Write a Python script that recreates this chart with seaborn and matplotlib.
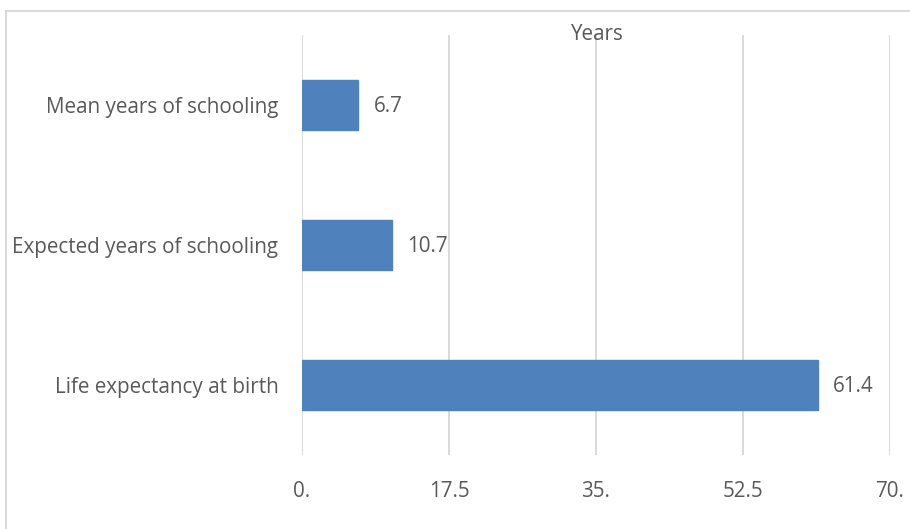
import matplotlib
matplotlib.use("Agg")
import matplotlib.pyplot as plt
from matplotlib.lines import Line2D
import seaborn as sns
import pandas as pd

# data
categories = ['Mean years of schooling', 'Expected years of schooling', 'Life expectancy at birth']
values = [6.7, 10.7, 61.4]
tick_vals = [0, 17.5, 35, 52.5, 70]
tick_labels = ['0.', '17.5', '35.', '52.5', '70.']

df = pd.DataFrame({'cat': categories, 'val': values})

sns.set_style("white")
plt.rcParams['font.family'] = ['Open Sans', 'DejaVu Sans']
txt = '#595959'
grid_c = '#D9D9D9'
fs = 14.9

fig = plt.figure(figsize=(9.1, 5.29), dpi=100)
ax = fig.add_axes([302/910, 1 - 455/529, 588/910, 420/529])

sns.barplot(data=df, x='val', y='cat', color='#4F81BD', width=0.36, ax=ax,
            saturation=1, edgecolor='#4F81BD', zorder=3)

ax.set_xlim(0, 70)
ax.set_ylim(2.5, -0.5)
ax.set_xticks(tick_vals)
ax.set_xticklabels(tick_labels)
ax.tick_params(axis='x', length=0, pad=19, labelsize=fs, labelcolor=txt)
ax.tick_params(axis='y', length=0, pad=17, labelsize=fs, labelcolor=txt)
ax.grid(True, axis='x', color=grid_c, linewidth=1.4, zorder=0)
ax.set_axisbelow(True)
for s in ax.spines.values():
    s.set_visible(False)
ax.set_xlabel('')
ax.set_ylabel('')

for i, v in enumerate(values):
    ax.annotate(f'{v}', xy=(v, i), xytext=(11, -1), textcoords='offset points',
                va='center', ha='left', fontsize=fs, color=txt)

fig.text(596/910, 1 - 34/529, 'Years', ha='center', va='center', fontsize=fs, color=txt)

# chart border (left and top edges visible)
fig.add_artist(Line2D([6/910, 6/910], [0, 1 - 11/529], color=grid_c, linewidth=1.5, transform=fig.transFigure))
fig.add_artist(Line2D([6/910, 1], [1 - 11/529, 1 - 11/529], color=grid_c, linewidth=1.5, transform=fig.transFigure))

fig.savefig('out.png', dpi=100)
